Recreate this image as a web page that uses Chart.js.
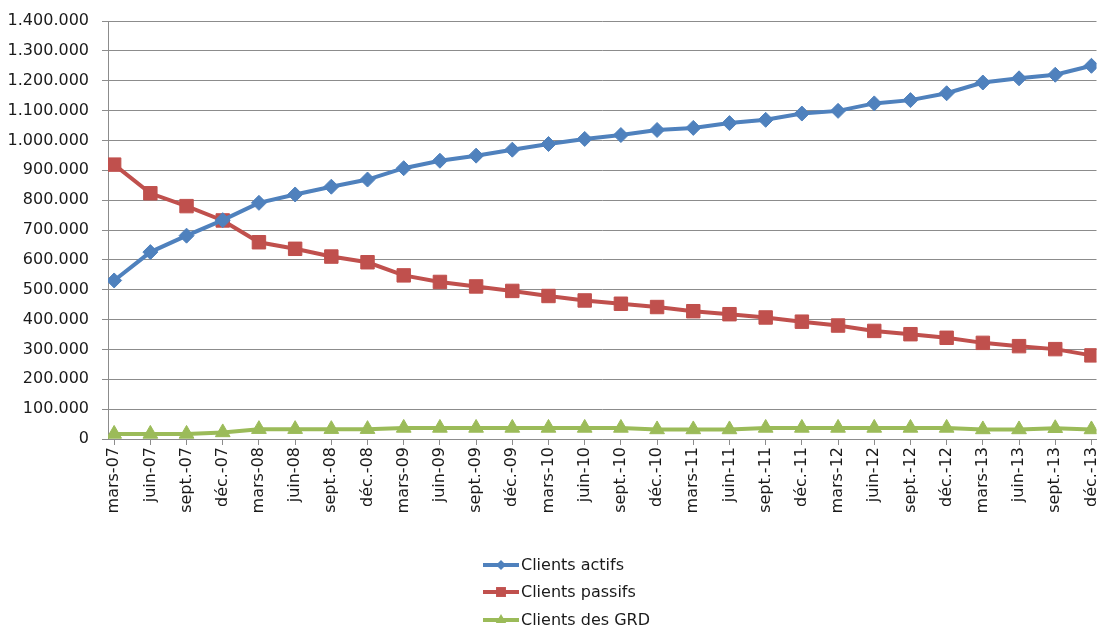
<!DOCTYPE html>
<html lang="fr">
<head>
<meta charset="utf-8">
<title>Clients actifs, passifs et des GRD</title>
<script src="https://cdn.jsdelivr.net/npm/chart.js"></script>
<style>
  html, body { margin: 0; padding: 0; background: #ffffff; }
  #wrap { width: 1107px; height: 630px; position: relative; }
  canvas { display: block; }
</style>
</head>
<body>
<div id="wrap"><canvas id="chart" width="1107" height="630"></canvas></div>
<script>
// Quarterly end-of-period labels
const categories = [
  'mars-07', 'juin-07', 'sept.-07', 'déc.-07',
  'mars-08', 'juin-08', 'sept.-08', 'déc.-08',
  'mars-09', 'juin-09', 'sept.-09', 'déc.-09',
  'mars-10', 'juin-10', 'sept.-10', 'déc.-10',
  'mars-11', 'juin-11', 'sept.-11', 'déc.-11',
  'mars-12', 'juin-12', 'sept.-12', 'déc.-12',
  'mars-13', 'juin-13', 'sept.-13', 'déc.-13'
];

const clientsActifs = [
  531000, 626000, 681000, 733000,
  791000, 819000, 845000, 869000,
  907000, 932000, 949000, 969000,
  988000, 1005000, 1018000, 1035000,
  1042000, 1058000, 1069000, 1090000,
  1099000, 1124000, 1135000, 1158000,
  1194000, 1208000, 1220000, 1250000
];

const clientsPassifs = [
  919000, 823000, 780000, 732000,
  659000, 637000, 611000, 592000,
  548000, 526000, 511000, 496000,
  479000, 464000, 453000, 442000,
  428000, 418000, 407000, 393000,
  380000, 362000, 351000, 339000,
  322000, 311000, 301000, 280000
];

const clientsGRD = [
  17000, 17000, 17000, 22000,
  33000, 33000, 33000, 33000,
  37000, 37000, 37000, 37000,
  37000, 37000, 37000, 32000,
  32000, 32000, 37000, 37000,
  37000, 37000, 37000, 37000,
  32000, 32000, 36000, 32000
];

const seriesNames = ['Clients actifs', 'Clients passifs', 'Clients des GRD'];
const seriesColors = ['#4f81bd', '#c0504d', '#9bbb59'];
const seriesMarkers = ['rectRot', 'rect', 'triangle'];

// Value axis range and step
const yMin = 0;
const yMax = 1400000;
const yStep = 100000;

const FONT = '"DejaVu Sans", sans-serif';
const TEXT = '#1a1a1a';
const GRID = '#8c8c8c';

function formatThousands(v) {
  return String(Math.round(v)).replace(/\B(?=(\d{3})+(?!\d))/g, '.');
}

function toPoints(values) {
  return values.map((y, i) => ({ x: i, y: y }));
}

const seriesValues = [clientsActifs, clientsPassifs, clientsGRD];
const markerRadius = [7.5, 9.5, 8.5];

const datasets = seriesValues.map((vals, k) => ({
  label: seriesNames[k],
  data: toPoints(vals),
  borderColor: seriesColors[k],
  backgroundColor: seriesColors[k],
  borderWidth: 4,
  tension: 0,
  pointStyle: seriesMarkers[k],
  pointRadius: markerRadius[k],
  pointBorderWidth: 1,
  pointBorderColor: seriesColors[k],
  pointBackgroundColor: seriesColors[k]
}));

// Draws a single marker shape centred on (x, y)
function drawMarker(ctx, style, x, y, r) {
  ctx.beginPath();
  if (style === 'rectRot') {
    ctx.moveTo(x - r, y);
    ctx.lineTo(x, y - r);
    ctx.lineTo(x + r, y);
    ctx.lineTo(x, y + r);
  } else if (style === 'rect') {
    const s = r * Math.SQRT1_2;
    ctx.rect(x - s, y - s, 2 * s, 2 * s);
  } else {
    const h = r * 1.5;
    const half = h / Math.sqrt(3);
    ctx.moveTo(x, y - r);
    ctx.lineTo(x + half, y - r + h);
    ctx.lineTo(x - half, y - r + h);
  }
  ctx.closePath();
  ctx.fill();
}

// Vertical legend stacked under the category labels
const stackedLegend = {
  id: 'stackedLegend',
  afterDraw(chart) {
    const ctx = chart.ctx;
    const left = 483;
    const sampleW = 36;
    const rows = [565, 592, 620];
    ctx.save();
    chart.data.datasets.forEach((ds, i) => {
      const y = rows[i];
      ctx.strokeStyle = ds.borderColor;
      ctx.fillStyle = ds.borderColor;
      ctx.lineWidth = 4;
      ctx.beginPath();
      ctx.moveTo(left, y);
      ctx.lineTo(left + sampleW, y);
      ctx.stroke();
      drawMarker(ctx, ds.pointStyle, left + sampleW / 2, y, [5, 7, 6][i]);
      ctx.fillStyle = TEXT;
      ctx.font = '16px ' + FONT;
      ctx.textBaseline = 'middle';
      ctx.textAlign = 'left';
      ctx.fillText(ds.label, left + sampleW + 2, y + 1);
    });
    ctx.restore();
  }
};

new Chart(document.getElementById('chart'), {
  type: 'line',
  data: { datasets: datasets },
  plugins: [stackedLegend],
  options: {
    responsive: false,
    animation: false,
    devicePixelRatio: 1,
    layout: { padding: { top: 21, right: 8, left: 0, bottom: 0 } },
    plugins: {
      legend: { display: false },
      tooltip: { enabled: false }
    },
    scales: {
      x: {
        type: 'linear',
        min: -0.17,
        max: categories.length - 1 + 0.14,
        afterBuildTicks(scale) {
          scale.ticks = categories.map((_, i) => ({ value: i }));
        },
        afterFit(scale) {
          scale.height = 191;
          scale.paddingLeft = 0;
          scale.paddingRight = 0;
        },
        ticks: {
          autoSkip: false,
          minRotation: 90,
          maxRotation: 90,
          padding: 2,
          color: TEXT,
          font: { family: FONT, size: 16 },
          callback: (v) => categories[v]
        },
        grid: {
          drawOnChartArea: false,
          drawTicks: true,
          tickLength: 6,
          color: GRID,
          lineWidth: 1
        },
        border: { display: true, color: GRID, width: 1 }
      },
      y: {
        min: yMin,
        max: yMax,
        afterFit(scale) {
          scale.width = 108;
          scale.paddingTop = 0;
          scale.paddingBottom = 0;
        },
        ticks: {
          stepSize: yStep,
          padding: 13,
          color: TEXT,
          font: { family: FONT, size: 16 },
          callback: (v) => formatThousands(v)
        },
        grid: {
          drawTicks: true,
          tickLength: 6,
          color: GRID,
          lineWidth: 1
        },
        border: { display: true, color: GRID, width: 1 }
      }
    }
  }
});
</script>
</body>
</html>
